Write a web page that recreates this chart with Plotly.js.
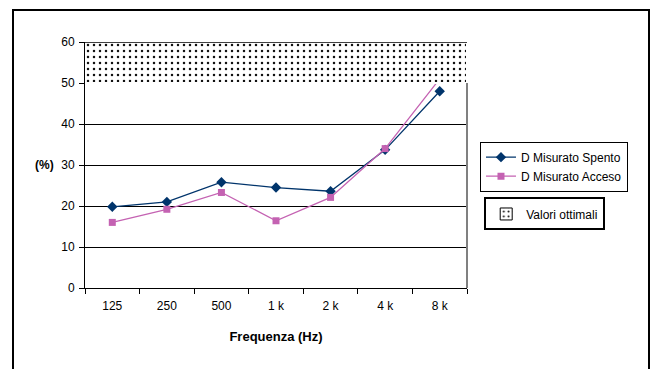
<!DOCTYPE html>
<html>
<head>
<meta charset="utf-8">
<script src="https://cdn.plot.ly/plotly-3.0.1.min.js"></script>
<style>
  html, body { margin: 0; padding: 0; background: #fff; }
  #wrap { position: relative; width: 654px; height: 369px; overflow: hidden; }
  #chart { width: 654px; height: 369px; }
  #frame { position: absolute; left: 12px; top: 9px; width: 634px; height: 400px;
           border: 2px solid #000; pointer-events: none; z-index: 50; box-sizing: content-box; }
</style>
</head>
<body>
<div id="wrap">
  <div id="chart"></div>
  <div id="frame"></div>
</div>
<script>
const categories = ['125', '250', '500', '1 k', '2 k', '4 k', '8 k'];
const spento = [19.8, 21.0, 25.8, 24.5, 23.6, 33.7, 48.0];
const acceso = [16.0, 19.2, 23.3, 16.4, 22.1, 34.0, 51.0];
const ottimaliMin = 50;
const ottimaliMax = 60;
const seriesNames = ['D Misurato Spento', 'D Misurato Acceso', 'Valori ottimali'];

const fam = 'Liberation Sans, Arial, sans-serif';
const font = { family: fam, size: 12, color: '#000' };
const dots = { shape: '.', bgcolor: '#ffffff', fgcolor: '#111111', size: 6, solidity: 0.14 };

const traces = [
  {
    x: categories, y: spento, name: seriesNames[0], type: 'scatter', mode: 'lines+markers',
    line: { color: '#00346b', width: 1.3 },
    marker: { symbol: 'diamond', size: 8, color: '#00346b' },
    legend: 'legend'
  },
  {
    x: categories, y: acceso, name: seriesNames[1], type: 'scatter', mode: 'lines+markers',
    line: { color: '#c462b2', width: 1.3 },
    marker: { symbol: 'square', size: 7, color: '#c462b2' },
    legend: 'legend'
  },
  {
    // optimal range band
    type: 'bar', xaxis: 'x2', yaxis: 'y',
    x: [0.5], width: [1], base: [ottimaliMin], y: [ottimaliMax - ottimaliMin],
    name: seriesNames[2], showlegend: false,
    marker: { color: '#ffffff', pattern: dots, line: { color: '#ffffff', width: 2 } },
    hoverinfo: 'skip'
  },
  {
    // legend entry for the band
    type: 'bar', xaxis: 'x2', yaxis: 'y',
    x: [null], y: [null],
    name: seriesNames[2], legend: 'legend2',
    marker: { color: '#ffffff', pattern: dots, line: { color: '#000', width: 1 } }
  }
];

const layout = {
  width: 654, height: 369,
  margin: { l: 85, r: 187, t: 42, b: 81 },
  paper_bgcolor: '#fff', plot_bgcolor: '#fff',
  font: font,
  showlegend: true,
  bargap: 0,
  xaxis: {
    type: 'category', range: [-0.5, 6.5], tickson: 'boundaries',
    ticks: 'outside', ticklen: 5, tickcolor: '#000', ticklabelstandoff: 7,
    showline: true, linecolor: '#000', linewidth: 1,
    showgrid: false, zeroline: false,
    tickfont: font,
    title: { text: 'Frequenza (Hz)', font: { family: fam, size: 13, color: '#000', weight: 'bold' }, standoff: 19 }
  },
  xaxis2: { overlaying: 'x', range: [0, 1], visible: false, fixedrange: true },
  yaxis: {
    range: [0, 60], dtick: 10, tick0: 0,
    ticks: 'outside', ticklen: 5, tickcolor: '#000', ticklabelstandoff: 2,
    showline: true, linecolor: '#000', linewidth: 1,
    showgrid: true, gridcolor: '#000', gridwidth: 1, zeroline: false,
    tickfont: font
  },
  legend: {
    x: 1.034, y: 0.595, xanchor: 'left', yanchor: 'top',
    bordercolor: '#000', borderwidth: 1, bgcolor: '#fff',
    font: font, tracegroupgap: 2, itemwidth: 30
  },
  legend2: {
    x: 1.045, y: 0.368, xanchor: 'left', yanchor: 'top',
    bordercolor: '#000', borderwidth: 2, bgcolor: '#fff',
    font: font, itemwidth: 30
  },
  annotations: [
    { text: '<b>(%)</b>', xref: 'paper', yref: 'paper', x: -0.105, y: 0.5, showarrow: false,
      xanchor: 'center', yanchor: 'middle', font: font }
  ],
  shapes: [
    { type: 'line', xref: 'paper', yref: 'y', x0: 1, x1: 1, y0: 0, y1: 50, line: { color: '#808080', width: 2 } },
    { type: 'line', xref: 'paper', yref: 'y', x0: 0, x1: 1, y0: 60, y1: 60, line: { color: '#000', width: 1.5 }, layer: 'above' }
  ]
};

Plotly.newPlot('chart', traces, layout, { displayModeBar: false, staticPlot: true });
</script>
</body>
</html>
